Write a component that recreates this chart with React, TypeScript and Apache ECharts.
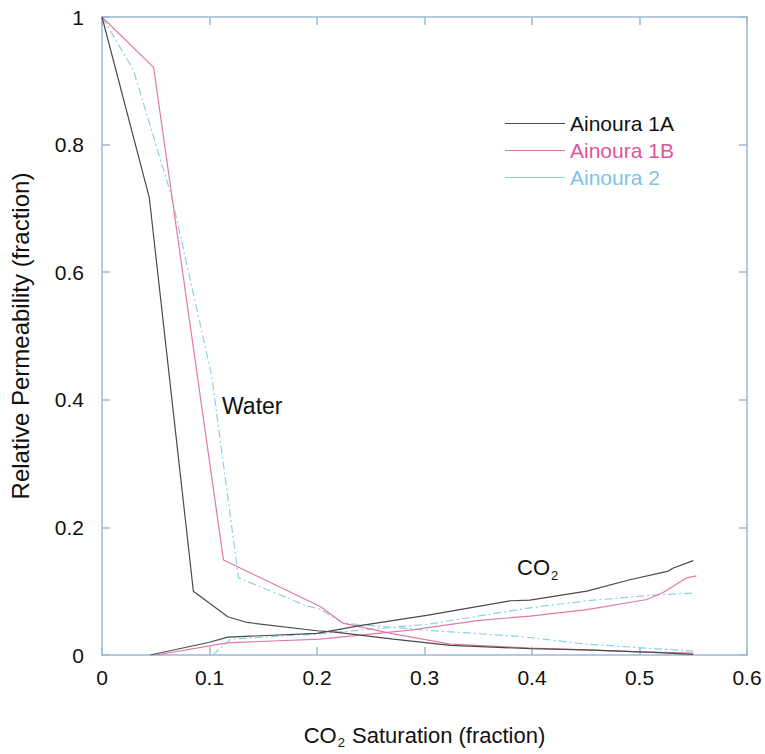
import React, { useEffect, useRef } from "react";
import * as echarts from "echarts";

const seriesNames = ["Ainoura 1A", "Ainoura 1B", "Ainoura 2"];

const water1A: [number, number][] = [
  [0, 1], [0.044, 0.717], [0.085, 0.1], [0.117, 0.06], [0.135, 0.051], [0.2, 0.038],
  [0.217, 0.036], [0.271, 0.025], [0.324, 0.015], [0.398, 0.01], [0.45, 0.008], [0.513, 0.004], [0.55, 0.001],
];
const water1B: [number, number][] = [
  [0, 1], [0.048, 0.921], [0.113, 0.149], [0.203, 0.076], [0.224, 0.05], [0.271, 0.033],
  [0.324, 0.017], [0.398, 0.011], [0.45, 0.008], [0.5, 0.005], [0.55, 0.003],
];
const water2: [number, number][] = [
  [0, 1], [0.029, 0.918], [0.065, 0.717], [0.102, 0.438], [0.127, 0.121], [0.166, 0.094],
  [0.19, 0.077], [0.203, 0.072], [0.224, 0.05], [0.3, 0.039], [0.389, 0.029], [0.451, 0.017], [0.55, 0.006],
];
const co2_1A: [number, number][] = [
  [0.045, 0], [0.1, 0.02], [0.117, 0.028], [0.2, 0.034], [0.24, 0.046], [0.302, 0.062],
  [0.38, 0.085], [0.398, 0.086], [0.451, 0.1], [0.491, 0.118], [0.526, 0.131], [0.531, 0.136], [0.55, 0.148],
];
const co2_1B: [number, number][] = [
  [0.051, 0], [0.116, 0.019], [0.203, 0.025], [0.287, 0.039], [0.349, 0.054], [0.398, 0.061],
  [0.451, 0.071], [0.507, 0.087], [0.522, 0.098], [0.544, 0.121], [0.553, 0.124],
];
const co2_2: [number, number][] = [
  [0.103, 0], [0.12, 0.025], [0.2, 0.033], [0.302, 0.048], [0.398, 0.074], [0.451, 0.085],
  [0.513, 0.094], [0.55, 0.097],
];

const colors = ["#4a4a4a", "#e27aa9", "#8fd0e4"];
const textColors = ["#111111", "#e0559a", "#7ec4e0"];
const axisColor = "#9db8d6";
const font = "Liberation Sans, Arial, sans-serif";

export default function App() {
  const ref = useRef<HTMLDivElement>(null);
  useEffect(() => {
    document.body.style.margin = "0";
    const chart = echarts.init(ref.current!, null, { renderer: "svg" });
    const lineStyles = [
      { color: colors[0], width: 1.2, type: "solid" as any },
      { color: colors[1], width: 1.2, type: "solid" as any },
      { color: colors[2], width: 1.2, type: [8, 3, 2, 3] as any },
    ];
    const mk = (name: string, data: [number, number][], i: number) => ({
      type: "line",
      name,
      data,
      showSymbol: false,
      symbol: "none",
      lineStyle: lineStyles[i],
      itemStyle: { color: colors[i] },
      z: 3 - i,
    });
    const tickStyle = { show: true, inside: true, length: 8, lineStyle: { color: axisColor, width: 1.5 } };
    const axisLine = { show: true, onZero: false, lineStyle: { color: axisColor, width: 1.5 } };
    chart.setOption({
      animation: false,
      textStyle: { fontFamily: font },
      grid: { left: 102, right: 18, top: 17, bottom: 91 },
      legend: {
        orient: "vertical",
        left: 500,
        top: 108,
        itemWidth: 60,
        itemHeight: 14,
        itemGap: 6,
        icon: "path://M0,7 L60,7 L60,8 L0,8 Z",
        textStyle: { fontSize: 21, fontFamily: font },
        data: seriesNames.map((n, i) => ({ name: n, textStyle: { color: textColors[i] }, itemStyle: { color: colors[i] } })),
      },
      xAxis: [
        {
          type: "value",
          min: 0,
          max: 0.6,
          interval: 0.1,
          axisLine,
          axisTick: tickStyle,
          splitLine: { show: false },
          axisLabel: { color: "#111", fontSize: 21, margin: 12, fontFamily: font },
          name: "CO{sub|2} Saturation (fraction)",
          nameLocation: "middle",
          nameGap: 67,
          nameTextStyle: {
            color: "#111",
            fontSize: 22,
            fontFamily: font,
            rich: { sub: { fontSize: 13, padding: [14, 1, 0, 1], color: "#111" } },
          },
        },
        {
          type: "value",
          position: "top",
          min: 0,
          max: 0.6,
          interval: 0.1,
          axisLine,
          axisTick: tickStyle,
          axisLabel: { show: false },
          splitLine: { show: false },
        },
      ],
      yAxis: [
        {
          type: "value",
          min: 0,
          max: 1,
          interval: 0.2,
          axisLine,
          axisTick: tickStyle,
          splitLine: { show: false },
          axisLabel: { color: "#111", fontSize: 21, margin: 18, fontFamily: font },
          name: "Relative Permeability (fraction)",
          nameLocation: "middle",
          nameGap: 70,
          nameTextStyle: { color: "#111", fontSize: 24, fontFamily: font },
        },
        {
          type: "value",
          position: "right",
          min: 0,
          max: 1,
          interval: 0.2,
          axisLine,
          axisTick: tickStyle,
          axisLabel: { show: false },
          splitLine: { show: false },
        },
      ],
      graphic: [
        {
          type: "text",
          left: 222,
          top: 394,
          style: { text: "Water", fontSize: 23, fontFamily: font, fill: "#111" },
        },
        {
          type: "text",
          left: 517,
          top: 556,
          style: {
            text: "CO{sub|2}",
            fontSize: 22,
            fontFamily: font,
            fill: "#111",
            rich: { sub: { fontSize: 13, padding: [16, 0, 0, 1], fill: "#111" } },
          },
        },
      ],
      series: [
        mk(seriesNames[0], water1A, 0),
        mk(seriesNames[1], water1B, 1),
        mk(seriesNames[2], water2, 2),
        mk(seriesNames[0], co2_1A, 0),
        mk(seriesNames[1], co2_1B, 1),
        mk(seriesNames[2], co2_2, 2),
      ],
    });
    return () => chart.dispose();
  }, []);
  return <div ref={ref} style={{ width: 765, height: 754 }} />;
}
